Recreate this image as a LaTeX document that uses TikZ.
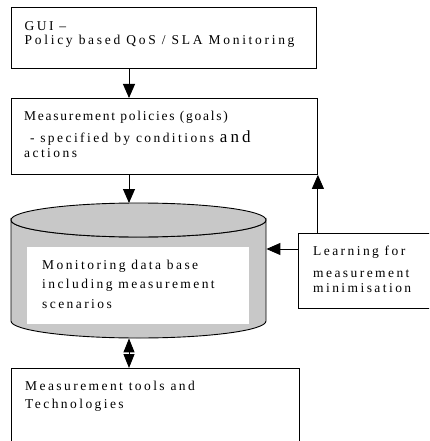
\documentclass[tikz,border=0pt]{standalone}
\usepackage{fontspec}
\setmainfont{Liberation Serif}[LetterSpace=18]
\usetikzlibrary{arrows.meta,positioning,calc}
\definecolor{dbgray}{RGB}{200,200,200}
\tikzset{
  box/.style={draw, line width=0.9pt, inner sep=0pt, anchor=north west},
  txt/.style={inner sep=0pt, anchor=base west, align=left, font=\fontsize{13.5}{14}\selectfont},
  arr/.style={-{Triangle[length=14pt,width=12pt]}, line width=0.9pt},
  dbl/.style={{Triangle[length=14pt,width=11pt]}-{Triangle[length=14pt,width=11pt]}, line width=0.9pt},
}

\begin{document}
\begin{tikzpicture}[x=1pt,y=-1pt]
\useasboundingbox (0,0) rectangle (429,441);
\clip (0,0) rectangle (429,441);

% boxes
\node[box, minimum width=305pt, minimum height=61pt] (gui) at (11,7) {};
\node[box, minimum width=306pt, minimum height=76pt] (pol) at (11,98) {};
\node[box, minimum width=200pt, minimum height=75pt] (learn) at (298,233) {};
\node[box, minimum width=288pt, minimum height=100pt] (tools) at (11,368) {};

% data base cylinder
\node[inner sep=0pt, minimum width=255pt, minimum height=135pt, anchor=north west] (db) at (11,203) {};
\draw[fill=dbgray, line width=0.9pt] (11,220) -- (11,321)
  arc[start angle=180, end angle=0, x radius=127.5, y radius=17] -- (266,220)
  arc[start angle=0, end angle=180, x radius=127.5, y radius=17] -- cycle;
\draw[fill=dbgray, line width=0.9pt] (138.5,220) ellipse [x radius=127.5, y radius=17];
\fill[white] (27,247) rectangle (249,324);

% texts (anchored on the baseline of the last line)
\node[txt] (guitxt) at (24.5,44.3) {GUI –\\\addfontfeature{LetterSpace=20}Policy based QoS / SLA Monitoring};
\node[txt, font=\fontsize{13.5}{15}\selectfont] (poltxt) at (24,157.7) {{\addfontfeature{LetterSpace=13}Measurement policies (goals)}\\[7pt]
  \ - specified by conditions {\fontsize{17}{15}\selectfont and}\\actions};
\node[txt, font=\fontsize{13.5}{19.5}\selectfont] (dbtxt) at (42,308) {Monitoring data base\\including measurement\\scenarios};
\node[txt, font=\fontsize{13.5}{15}\selectfont] (learntxt) at (313,292) {Learning for\\[7pt]measurement\\minimisation};
\node[txt, font=\fontsize{13.5}{18}\selectfont] (toolstxt) at (25,408) {Measurement tools and\\Technologies};

% connectors
\coordinate (spine) at (129,0);
\draw[arr] (gui.south -| spine) -- (pol.north -| spine);
\draw[arr] (pol.south -| spine) -- (db.north -| spine);
\draw[arr] (learn.north -| pol.south east) -- (pol.south east);
\coordinate (lrn) at ($(learn.north west)+(0,16)$);
\draw[arr] (lrn) -- (lrn -| db.east);
\draw[dbl] (db.south -| spine) -- (tools.north -| spine);
\end{tikzpicture}
\end{document}
